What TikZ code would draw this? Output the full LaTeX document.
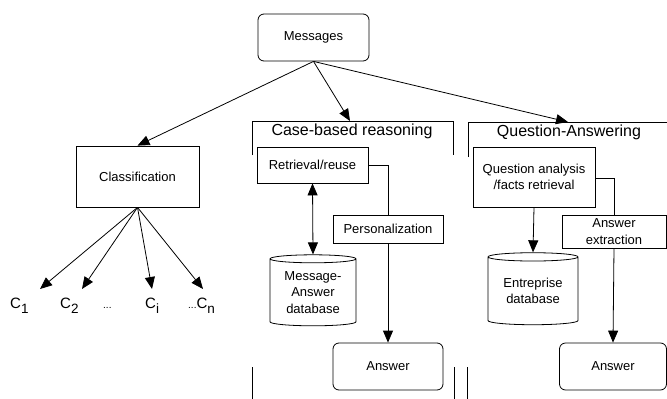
\documentclass[tikz,border=0pt]{standalone}
\usepackage{fontspec}
\setmainfont{Liberation Sans}
\usetikzlibrary{arrows.meta,shapes.geometric}
\newcommand{\csub}[1]{\raisebox{-5pt}{\fontsize{13.5}{14}\selectfont #1}}
\tikzset{
  box/.style={draw, line width=0.8pt, fill=white, align=center, inner sep=0pt,
    font=\fontsize{13}{16.5}\selectfont},
  rbox/.style={box, rounded corners=6pt},
  db/.style={box, cylinder, shape border rotate=90, aspect=0.14},
  tip/.tip={Triangle[length=12pt,width=10pt]},
  arr/.style={-tip, line width=0.8pt},
  ttl/.style={inner sep=0pt, font=\fontsize{16}{18}\selectfont},
  clab/.style={inner sep=0pt, anchor=base west, font=\fontsize{15}{16}\selectfont}
}
\begin{document}
\begin{tikzpicture}[x=1pt,y=-1pt]
\useasboundingbox (0,0) rectangle (667,399);
\node[rbox, minimum width=111pt, minimum height=47pt] (msg) at (313.5,37.5) {Messages};
\node[box, minimum width=123pt, minimum height=61pt] (cls) at (137.5,176.5) {Classification};
\draw[line width=0.8pt] (252,155) -- (252,121) -- (453,121) -- (453,155);
\draw[line width=0.8pt] (468,157) -- (468,122) -- (666.5,122);
\coordinate (cbrtop) at (350,121);
\coordinate (qatop) at (568,122);
\node[ttl] (cbr) at (352,131) {Case-based reasoning};
\node[ttl] (qa) at (569,132) {Question-Answering};
\node[box, minimum width=111pt, minimum height=36pt] (ret) at (312.5,165) {Retrieval/reuse};
\node[box, minimum width=122pt, minimum height=60pt] (qan) at (534,177) {Question analysis\\/facts retrieval};
\node[db, minimum width=86pt, minimum height=71pt] (mdb) at (313,292.5) {Message-\\Answer\\database};
\node[db, minimum width=90pt, minimum height=72pt] (edb) at (533,291) {Entreprise\\database};
\node[box, minimum width=110pt, minimum height=28pt] (pers) at (388,229) {Personalization};
\node[box, minimum width=104pt, minimum height=33pt] (ext) at (614,231.5) {Answer\\extraction};
\node[rbox, minimum width=110pt, minimum height=47pt] (ans1) at (388,366.5) {Answer};
\node[rbox, minimum width=107pt, minimum height=47pt] (ans2) at (613,366.5) {Answer};
\draw[arr] (msg.south) -- (cls.north);
\draw[arr] (msg.south) -- (cbrtop);
\draw[arr] (msg.south) -- (qatop);
\draw[tip-tip, line width=0.8pt] (ret.south) -- (mdb.north);
\draw[line width=0.8pt] (ret.east) -| (pers.north);
\draw[arr] (pers.south) -- (ans1.north);
\draw[arr] (qan.south) -- (edb.north);
\draw[line width=0.8pt] ([yshift=-1pt]qan.east) -| (ext.north);
\draw[arr] (ext.south) -- (ans2.north);
\node[clab] (c1) at (10,308) {C\csub{1}};
\node[clab] (c2) at (60,308) {C\csub{2}};
\node[clab, font=\fontsize{10}{10}\selectfont] (dots) at (103,308) {...};
\node[clab] (ci) at (145,308) {C\csub{i}};
\node[clab] (cn) at (188,308) {{\fontsize{10}{10}\selectfont ...}C\csub{n}};
\foreach \n/\x in {1/40, 2/82, 3/152, 4/203} {
\coordinate (t\n) at (\x,289);
\draw[arr] (cls.south) -- (t\n);}
\foreach \x in {252, 454, 467} {
\draw[line width=0.8pt] (\x,367) -- (\x,399);}
\end{tikzpicture}
\end{document}
